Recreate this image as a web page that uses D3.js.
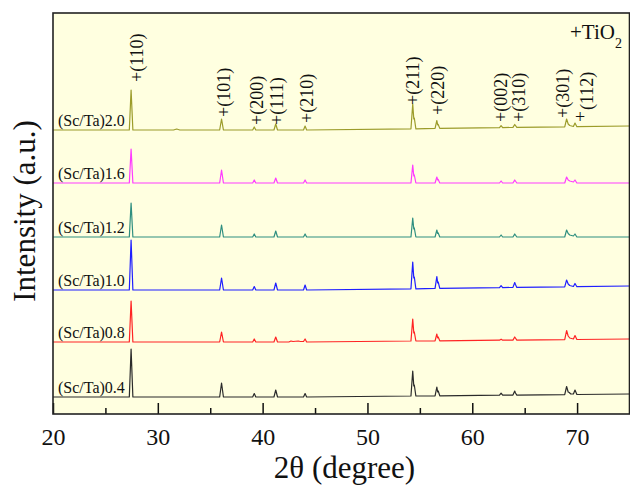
<!DOCTYPE html>
<html><head><meta charset="utf-8">
<script src="https://cdn.jsdelivr.net/npm/d3@7/dist/d3.min.js"></script>
<style>body{margin:0;background:#fff}svg{display:block}svg text{font-family:"Liberation Serif","Times New Roman","DejaVu Serif",serif !important;fill:#111}</style>
</head><body><svg id="c" width="630" height="486"></svg>
<script>
// ---- data (2θ in degrees, intensity in arbitrary units relative to each pattern's base) ----
const seriesNames = ["(Sc/Ta)0.4","(Sc/Ta)0.8","(Sc/Ta)1.0","(Sc/Ta)1.2","(Sc/Ta)1.6","(Sc/Ta)2.0"];
const seriesOffsets = [17, 72, 124, 177, 231, 284];
const seriesColors = ["#2b2b2b","#ff2424","#1f1fff","#2f8f80","#ff3cff","#9c9c2a"];

const s04 = [[20,0],[27.28,0],[27.45,48],[27.62,0],[35.9,0],[36.08,14],[36.26,0],[39.05,0],[39.2,3.5],[39.35,0],
 [41.08,0],[41.25,7],[41.42,0],[43.9,0],[44.05,3.5],[44.2,0],[54.15,1],[54.32,26],[54.42,11],[54.47,12],[54.62,1],
 [56.45,1.2],[56.62,10],[56.7,5],[56.75,6],[56.9,1.2],[62.6,1.8],[62.75,3.8],[62.9,1.8],[63.88,1.9],[64.05,6],[64.12,4],[64.25,1.9],
 [68.82,2.4],[69.0,10.5],[69.15,5],[69.25,4.5],[69.4,3],[69.65,3],[69.8,7],[69.98,2.5],[75,3]];
const s08 = [[20,0],[27.28,0],[27.45,41],[27.62,0],[35.9,0],[36.08,10],[36.26,0],[39.05,0],[39.2,3],[39.35,0],
 [41.08,0],[41.25,5],[41.42,0],[42.5,0],[42.7,1],[42.9,0.5],[43.4,1],[43.6,0.5],[43.9,0.5],[44.05,3],[44.2,0],
 [54.15,1],[54.32,23],[54.42,9],[54.47,10],[54.62,1],[56.45,1.2],[56.62,8],[56.7,4],[56.75,5],[56.9,1.2],
 [62.6,1.8],[62.75,2.8],[62.9,1.8],[63.88,1.9],[64.05,5],[64.25,1.9],
 [68.82,2.4],[69.0,11.5],[69.15,6],[69.3,4],[69.65,3],[69.8,6.5],[69.98,2.5],[75,3]];
const s10 = [[20,0],[27.28,0],[27.45,50],[27.62,0],[35.9,0],[36.08,12],[36.26,0],[39.05,0],[39.2,3.5],[39.35,0],
 [41.08,0],[41.25,7],[41.42,0],[43.9,0],[44.05,5],[44.2,0],[54.15,1.2],[54.32,28],[54.42,12],[54.47,13],[54.62,1.2],
 [56.45,1.6],[56.62,13.5],[56.7,7],[56.75,8],[56.9,1.6],[62.6,2.4],[62.75,4.4],[62.9,2.4],[63.88,2.6],[64.05,7.5],[64.12,5.5],[64.25,2.6],
 [68.82,3.2],[69.0,10],[69.15,6],[69.3,4.5],[69.65,3.5],[69.8,6.5],[69.98,3.3],[75,4]];
const s12 = [[20,0],[27.28,0],[27.45,34],[27.62,0],[35.9,0],[36.08,12],[36.26,0],[39.05,0],[39.2,3],[39.35,0],
 [41.08,0],[41.25,6],[41.42,0],[43.9,0],[44.05,3],[44.2,0],[54.15,0],[54.32,19],[54.42,8],[54.47,9],[54.62,0],
 [56.45,0],[56.62,7],[56.7,3.5],[56.75,4],[56.9,0],[62.6,0],[62.75,2],[62.9,0],[63.88,0],[64.05,3],[64.25,0],
 [68.82,0],[69.0,7],[69.15,3.5],[69.3,2],[69.65,1],[69.8,3],[69.98,0],[75,0]];
const s16 = [[20,0],[27.28,0],[27.45,34],[27.62,0],[35.9,0],[36.08,13],[36.26,0],[39.05,0],[39.2,3],[39.35,0],
 [41.08,0],[41.25,5],[41.42,0],[43.9,0],[44.05,3],[44.2,0],[54.15,0],[54.32,18],[54.42,7],[54.47,8],[54.62,0],
 [56.45,0],[56.62,6],[56.7,3],[56.75,3.5],[56.9,0],[62.6,0],[62.75,2],[62.9,0],[63.88,0],[64.05,3],[64.25,0],
 [68.82,0],[69.0,6],[69.15,3],[69.3,2],[69.65,1],[69.8,3],[69.98,0],[75,0]];
const s20 = [[20,0],[27.28,0],[27.45,40],[27.62,0],[31.5,0],[31.8,1],[32.1,0],[35.9,0],[36.08,11],[36.26,0],[39.05,0],[39.2,3],[39.35,0],
 [41.08,0],[41.25,6],[41.42,0],[43.9,0],[44.05,4],[44.2,0],[54.15,1.2],[54.32,26],[54.42,11],[54.47,12],[54.62,1.2],
 [56.45,1.6],[56.62,9.5],[56.7,5],[56.75,5.5],[56.9,1.6],[62.6,2.4],[62.75,4.4],[62.9,2.4],[63.88,2.6],[64.05,5.5],[64.25,2.6],
 [68.82,3.2],[69.0,11],[69.15,6],[69.3,4.5],[69.65,3.5],[69.8,7],[69.98,3.3],[75,4]];
const seriesData = [s04, s08, s10, s12, s16, s20];

const peakLabels = ["+(110)","+(101)","+(200)","+(111)","+(210)","+(211)","+(220)","+(002)","+(310)","+(301)","(112)"];
const peakLabelAt = [[27.98,332],[36.31,297],[39.49,289],[41.34,289],[44.2,291],[54.37,309],[56.76,299],[62.74,292],[64.46,292],[68.68,296],[70.92,304]];
const extraPlusAt = [69.8, 297]; // the "+" belonging to (112)
const xTicksMajor = [20,30,40,50,60,70];
const xTicksMinor = [25,35,45,55,65,75];

// ---- layout ----
const svg = d3.select("#c");
const L = 53, R = 629.5, T = 13, B = 414;
const x = d3.scaleLinear().domain([20,75]).range([L,R]);
const y = d3.scaleLinear().domain([0,401]).range([B,T]);

svg.append("rect").attr("x",L).attr("y",T).attr("width",R-L).attr("height",B-T).attr("fill","#ffffe0");

seriesData.forEach((s,i)=>{
  const off = seriesOffsets[i];
  svg.append("path")
    .attr("d", d3.line().x(d=>x(d[0])).y(d=>y(d[1]+off))(s))
    .attr("fill","none").attr("stroke",seriesColors[i]).attr("stroke-width",1.2).attr("stroke-linejoin","round");
  svg.append("text").attr("x",58).attr("y",y(off)-4.5).attr("font-size",16).text(seriesNames[i]);
});

// peak labels
peakLabels.forEach((t,i)=>{
  const p = peakLabelAt[i];
  svg.append("text").attr("transform",`translate(${x(p[0])},${y(p[1])}) rotate(-90)`)
    .attr("dy","0.33em").attr("font-size",18).text(t);
});
svg.append("text").attr("transform",`translate(${x(extraPlusAt[0])+5},${y(extraPlusAt[1])})`)
  .attr("text-anchor","middle").attr("dy","0.33em").attr("font-size",18).text("+");

// legend
const lg = svg.append("text").attr("x",570).attr("y",39).attr("font-size",21);
lg.append("tspan").text("+TiO");
lg.append("tspan").attr("font-size",14).attr("dy",9).text("2");

// axes
const ax = svg.append("g").attr("transform",`translate(0,${B})`)
  .call(d3.axisBottom(x).tickValues(xTicksMajor).tickFormat(d3.format("d")).tickSizeInner(-11).tickSizeOuter(0).tickPadding(14));
ax.attr("font-family",null);
ax.select(".domain").remove();
ax.selectAll("line").attr("stroke","#111").attr("stroke-width",1.5);
ax.selectAll("text").attr("font-size",24).attr("fill","#111");
const axm = svg.append("g").attr("transform",`translate(0,${B})`)
  .call(d3.axisBottom(x).tickValues(xTicksMinor).tickFormat("").tickSizeInner(-6).tickSizeOuter(0));
axm.select(".domain").remove();
axm.selectAll("line").attr("stroke","#111").attr("stroke-width",1.5);

// frame
svg.append("rect").attr("x",L).attr("y",T).attr("width",R-L).attr("height",B-T)
  .attr("fill","none").attr("stroke","#222").attr("stroke-width",1.6);

svg.append("text").attr("x",344.5).attr("y",478).attr("text-anchor","middle").attr("font-size",31).text("2θ (degree)");
svg.append("text").attr("transform","translate(35,211) rotate(-90)").attr("text-anchor","middle").attr("font-size",31).text("Intensity (a.u.)");
</script></body></html>
